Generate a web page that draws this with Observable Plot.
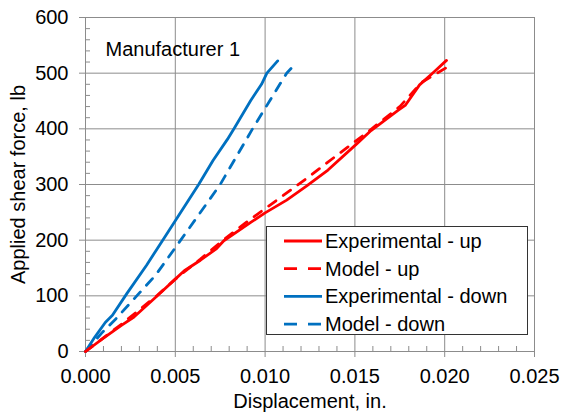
<!DOCTYPE html>
<html>
<head>
<meta charset="utf-8">
<script src="https://cdn.jsdelivr.net/npm/d3@7"></script>
<script src="https://cdn.jsdelivr.net/npm/@observablehq/plot@0.6"></script>
<style>
  body { margin: 0; background: #fff; }
  #wrap { position: relative; width: 561px; height: 415px; font-family: "Liberation Sans", Arial, sans-serif; }
  #legend { position: absolute; left: 266px; top: 226px; width: 262px; height: 109px; border: 1px solid #333; background: #fff; box-sizing: border-box; }
</style>
</head>
<body>
<div id="wrap"></div>
<script>
// ---- Data ----
const seriesNames = ["Experimental - up", "Model - up", "Experimental - down", "Model - down"];
const seriesColors = ["#ff0000", "#ff0000", "#0070c0", "#0070c0"];
const seriesDashed = [false, true, false, true];

const expUpDisp  = [0, 0.0010, 0.0020, 0.0027, 0.0040, 0.0050, 0.0055, 0.0064, 0.0073, 0.0077, 0.0092, 0.0100, 0.0112, 0.0123, 0.0135, 0.0151, 0.0159, 0.0174, 0.0178, 0.0186, 0.0194, 0.0201];
const expUpForce = [0, 24, 47, 62, 100, 130, 145, 164, 185, 199, 232, 249, 272, 297, 326, 373, 397, 433, 442, 479, 502, 523];

const modelUpDisp  = [0, 0.0020, 0.0040, 0.0050, 0.0064, 0.0077, 0.0092, 0.0110, 0.0124, 0.0141, 0.0157, 0.0175, 0.0187, 0.0203];
const modelUpForce = [0, 49, 101, 130, 166, 201, 238, 280, 313, 355, 394, 440, 483, 514];

const expDownDisp  = [0, 0.0005, 0.0011, 0.0015, 0.0023, 0.0034, 0.0043, 0.0050, 0.0063, 0.0071, 0.0079, 0.0083, 0.0092, 0.0098, 0.0101, 0.0107];
const expDownForce = [0, 25, 52, 65, 104, 155, 200, 235, 300, 343, 381, 402, 451, 480, 500, 522];

const modelDownDisp  = [0, 0.0009, 0.0017, 0.0039, 0.0053, 0.0075, 0.0093, 0.0112, 0.0117];
const modelDownForce = [0, 33, 59, 137, 200, 300, 400, 500, 517];

const xTicks = [0, 0.005, 0.010, 0.015, 0.020, 0.025];
const yTicks = [0, 100, 200, 300, 400, 500, 600];
const xMinorTicks = [0.001, 0.002, 0.003, 0.004, 0.006, 0.007, 0.008, 0.009, 0.011, 0.012, 0.013, 0.014, 0.016, 0.017, 0.018, 0.019, 0.021, 0.022, 0.023, 0.024];
const yMinorTicks = [20, 40, 60, 80, 120, 140, 160, 180, 220, 240, 260, 280, 320, 340, 360, 380, 420, 440, 460, 480, 520, 540, 560, 580];

const xTitle = "Displacement, in.";
const yTitle = "Applied shear force, lb";
const panelLabel = "Manufacturer 1";

// ---- Build tables ----
const allDisp = [expUpDisp, modelUpDisp, expDownDisp, modelDownDisp];
const allForce = [expUpForce, modelUpForce, expDownForce, modelDownForce];
const rows = [];
seriesNames.forEach((name, i) => {
  allDisp[i].forEach((d, j) => rows.push({series: name, d, f: allForce[i][j]}));
});

const W = 561, H = 415, mL = 85, mR = 27, mT = 17, mB = 64;
const innerW = W - mL - mR, innerH = H - mT - mB;
const axisGray = "#8c8c8c";
const font = "'Liberation Sans', Arial, sans-serif";

// draw blue first, then red on top
const drawOrder = [2, 3, 0, 1];
const lineMarks = drawOrder.map(i => Plot.line(rows.filter(r => r.series === seriesNames[i]), {
  x: "d", y: "f",
  stroke: seriesColors[i],
  strokeWidth: 2.8,
  strokeDasharray: seriesDashed[i] ? "9,9" : null,
  strokeLinecap: "round",
  strokeLinejoin: "round"
}));

const chart = Plot.plot({
  width: W, height: H,
  marginLeft: mL, marginRight: mR, marginTop: mT, marginBottom: mB,
  style: {fontFamily: font, fontSize: "20px", background: "#fff", color: "#000"},
  x: {domain: [0, 0.025]},
  y: {domain: [0, 600]},
  marks: [
    Plot.gridX({ticks: xTicks, stroke: axisGray, strokeOpacity: 1}),
    Plot.gridY({ticks: yTicks, stroke: axisGray, strokeOpacity: 1}),
    Plot.ruleX(xMinorTicks, {stroke: axisGray, insetTop: innerH - 5}),
    Plot.ruleY(yMinorTicks, {stroke: axisGray, insetRight: innerW - 5}),
    Plot.axisX({ticks: xTicks, tickSize: 6, tickPadding: 11, tickFormat: d3.format(".3f"), stroke: axisGray, fill: "#000", fontSize: 20, label: null}),
    Plot.axisY({ticks: yTicks, tickSize: 6, tickPadding: 11, tickFormat: d3.format("d"), stroke: axisGray, fill: "#000", fontSize: 20, label: null}),
    ...lineMarks,
    Plot.text([xTitle], {text: d => d, frameAnchor: "bottom", dy: 50, lineAnchor: "middle", textAnchor: "middle", fontSize: 20, fill: "#000"}),
    Plot.text([yTitle], {text: d => d, frameAnchor: "left", dx: -67, rotate: -90, lineAnchor: "middle", textAnchor: "middle", fontSize: 20, fill: "#000"}),
    Plot.text([panelLabel], {text: d => d, frameAnchor: "top-left", dx: 20, dy: 32, textAnchor: "start", lineAnchor: "middle", fontSize: 20, fill: "#000"})
  ]
});

const wrap = document.getElementById("wrap");
wrap.appendChild(chart);

// ---- Legend (inside plot area) ----
const legend = document.createElement("div");
legend.id = "legend";
const ns = "http://www.w3.org/2000/svg";
const lsvg = document.createElementNS(ns, "svg");
lsvg.setAttribute("width", 260);
lsvg.setAttribute("height", 107);
lsvg.style.display = "block";
seriesNames.forEach((name, i) => {
  const cy = 14 + i * 27.7;
  const ln = document.createElementNS(ns, "line");
  ln.setAttribute("x1", 17); ln.setAttribute("x2", 55);
  ln.setAttribute("y1", cy); ln.setAttribute("y2", cy);
  ln.setAttribute("stroke", seriesColors[i]);
  ln.setAttribute("stroke-width", 2.8);
  if (seriesDashed[i]) { ln.setAttribute("stroke-dasharray", "13,11"); }
  lsvg.appendChild(ln);
  const tx = document.createElementNS(ns, "text");
  tx.setAttribute("x", 58);
  tx.setAttribute("y", cy);
  tx.setAttribute("dy", "0.35em");
  tx.setAttribute("font-size", 20);
  tx.setAttribute("font-family", font);
  tx.setAttribute("fill", "#000");
  tx.textContent = name;
  lsvg.appendChild(tx);
});
legend.appendChild(lsvg);
wrap.appendChild(legend);
</script>
</body>
</html>
